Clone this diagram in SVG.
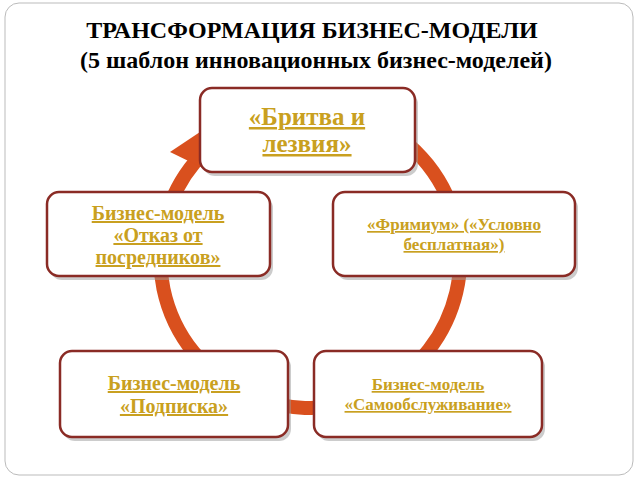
<svg xmlns="http://www.w3.org/2000/svg" width="640" height="480" viewBox="0 0 640 480">
<defs>
<style>
.box{fill:#fff;stroke:#8a2b25;stroke-width:2.5}
.sh{fill:#999;opacity:.5}
.t{font-family:"Liberation Serif",serif;font-weight:bold;fill:#c9a020;text-anchor:middle;text-decoration:underline}
.h{font-family:"Liberation Serif",serif;font-weight:bold;fill:#000;text-anchor:middle;font-size:24px}
</style>
</defs>
<rect x="5" y="3" width="628" height="472" rx="14" fill="#fff" stroke="#bbb" stroke-width="1"/>
<text class="h" x="312" y="38">ТРАНСФОРМАЦИЯ БИЗНЕС-МОДЕЛИ</text>
<text class="h" x="316" y="68">(5 шаблон инновационных бизнес-моделей)</text>
<g id="connectors">
<path d="M195,162 A150,150 0 1 0 310,108" fill="none" stroke="#d9501e" stroke-width="14"/>
<polygon points="170,152 207,170 200,132" fill="#d9501e"/>
</g>
<g id="n1"><rect class="sh" x="203" y="92" width="215" height="84" rx="12"/><rect class="box" x="200" y="88" width="215" height="84" rx="12"/>
<text class="t" font-size="25" x="307" y="125">«Бритва и</text><text class="t" font-size="25" x="307" y="152">лезвия»</text></g>
<g id="n2"><rect class="sh" x="336" y="196" width="242" height="84" rx="12"/><rect class="box" x="333" y="192" width="242" height="84" rx="12"/>
<text class="t" font-size="17" x="454" y="230">«Фримиум» («Условно</text><text class="t" font-size="17" x="454" y="250">бесплатная»)</text></g>
<g id="n3"><rect class="sh" x="50" y="196" width="223" height="84" rx="12"/><rect class="box" x="47" y="192" width="223" height="84" rx="12"/>
<text class="t" font-size="20" x="158" y="220">Бизнес-модель</text><text class="t" font-size="20" x="158" y="242">«Отказ от</text><text class="t" font-size="20" x="158" y="264">посредников»</text></g>
<g id="n4"><rect class="sh" x="63" y="355" width="228" height="86" rx="12"/><rect class="box" x="60" y="351" width="228" height="86" rx="12"/>
<text class="t" font-size="20" x="174" y="390">Бизнес-модель</text><text class="t" font-size="20" x="174" y="413">«Подписка»</text></g>
<g id="n5"><rect class="sh" x="317" y="355" width="228" height="86" rx="12"/><rect class="box" x="314" y="351" width="228" height="86" rx="12"/>
<text class="t" font-size="17" x="428" y="390">Бизнес-модель</text><text class="t" font-size="17" x="428" y="410">«Самообслуживание»</text></g>
</svg>
